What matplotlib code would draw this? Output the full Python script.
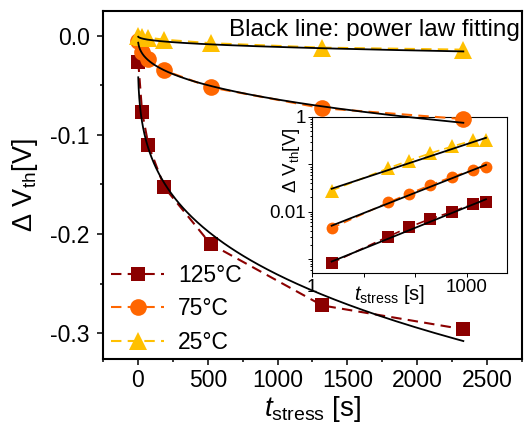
import numpy as np
import matplotlib
matplotlib.use('Agg')
import matplotlib.pyplot as plt
from matplotlib.ticker import FixedLocator, FixedFormatter, LogLocator, NullFormatter, MultipleLocator

plt.rcParams['font.family'] = ['Liberation Sans', 'DejaVu Sans']
plt.rcParams['mathtext.fontset'] = 'custom'
plt.rcParams['mathtext.rm'] = 'Liberation Sans'
plt.rcParams['mathtext.it'] = 'Liberation Sans:italic'

# stress times [s]
t_stress = [2.4, 30, 75, 190, 520, 1320, 2330]

# threshold voltage shift [V] (main, linear axes)
dv_125 = [-0.026, -0.077, -0.110, -0.153, -0.210, -0.272, -0.296]
dv_75 = [-0.005, -0.016, -0.023, -0.035, -0.052, -0.073, -0.084]
dv_25 = [-0.0005, -0.001, -0.002, -0.004, -0.0075, -0.012, -0.014]

# power law fits |dV| = A * t^n
fit_amp = [0.0325, 0.00506, 0.00071]
fit_exp = [0.29, 0.368, 0.40]

# inset (log-log) values as plotted
inset_sq = [8.3e-4, 3.0e-3, 4.7e-3, 7.0e-3, 0.010, 0.0147, 0.0163]
inset_ci = [4.5e-3, 0.0157, 0.024, 0.036, 0.055, 0.076, 0.089]
inset_tr = [0.028, 0.083, 0.12, 0.17, 0.24, 0.32, 0.33]
inset_amp = [6.05e-4, 3.48e-3, 0.0223]
inset_exp = [0.44, 0.43, 0.36]

labels = ['125°C', '75°C', '25°C']
colors = ['#8B0000', '#FF6600', '#FFC000']
markers = ['s', 'o', '^']
msizes = [9.5, 12, 12.5]

fig = plt.figure(figsize=(5.32, 4.26), dpi=100)
ax = fig.add_axes([0.1936, 0.1573, 0.7876, 0.8169])
ax.set_zorder(2)
ax.patch.set_visible(False)

series = [dv_125, dv_75, dv_25]
t_fit = np.logspace(np.log10(t_stress[0]), np.log10(t_stress[-1]), 300)
for y, lab, c, m, ms in zip(series, labels, colors, markers, msizes):
    ax.plot(t_stress, y, linestyle='--', dashes=(5, 3), color=c, lw=1.5,
            marker=m, markersize=ms, markeredgewidth=0, label=lab)
for a, n in zip(fit_amp, fit_exp):
    ax.plot(t_fit, -a * t_fit ** n, color='black', lw=1.3, zorder=3)

ax.set_xlim(-250, 2750)
ax.set_ylim(-0.326, 0.025)
ax.xaxis.set_major_locator(MultipleLocator(500))
ax.xaxis.set_minor_locator(MultipleLocator(250))
ax.yaxis.set_major_locator(MultipleLocator(0.1))
ax.yaxis.set_minor_locator(MultipleLocator(0.05))
ax.yaxis.set_major_formatter(matplotlib.ticker.FormatStrFormatter('%.1f'))
ax.tick_params(which='both', direction='out', width=1.1, labelsize=16.5)
ax.tick_params(which='major', length=4.5)
ax.tick_params(which='minor', length=2.5)
ax.tick_params(axis='y', pad=5)
ax.tick_params(axis='x', pad=3)
for s in ax.spines.values():
    s.set_linewidth(1.5)

ax.set_xlabel('$t_{\\mathrm{stress}}$ [s]', fontsize=20, labelpad=1)
ax.set_ylabel('Δ V$_{\\mathrm{th}}$[V]', fontsize=19.5)
ax.yaxis.set_label_coords(-0.15, 0.5)

ax.text(0.995, 0.977, 'Black line: power law fitting', transform=ax.transAxes,
        ha='right', va='top', fontsize=17.5)

ax.legend(loc='lower left', bbox_to_anchor=(0.02, 0.015), frameon=False,
          fontsize=16.5, handlelength=2.3, handletextpad=0.6, labelspacing=0.45,
          borderpad=0, borderaxespad=0)

# inset
ins = fig.add_axes([0.5865, 0.3592, 0.3665, 0.3662])
ins.set_zorder(1)
inset_series = [inset_sq, inset_ci, inset_tr]
inset_ms = [8.5, 8.5, 10]
for y, c, m, ms in zip(inset_series, colors, markers, inset_ms):
    ins.plot(t_stress, y, linestyle='--', dashes=(5, 3), color=c, lw=1.2,
             marker=m, markersize=ms, markeredgewidth=0)
for a, n in zip(inset_amp, inset_exp):
    ins.plot(t_fit, a * t_fit ** n, color='black', lw=1.3, zorder=3)
ins.set_xscale('log')
ins.set_yscale('log')
ins.set_xlim(1, 5950)
ins.set_ylim(5.1e-4, 1.0)
ins.xaxis.set_major_locator(FixedLocator([1, 10, 100, 1000]))
ins.xaxis.set_major_formatter(FixedFormatter(['1', '', '', '1000']))
ins.yaxis.set_major_locator(FixedLocator([0.001, 0.01, 0.1, 1]))
ins.yaxis.set_major_formatter(FixedFormatter(['', '0.01', '', '1']))
ins.xaxis.set_minor_locator(LogLocator(base=10, subs=np.arange(2, 10)))
ins.yaxis.set_minor_locator(LogLocator(base=10, subs=np.arange(2, 10)))
ins.xaxis.set_minor_formatter(NullFormatter())
ins.yaxis.set_minor_formatter(NullFormatter())
ins.tick_params(which='both', direction='out', width=0.7, labelsize=13.5, pad=1.5)
ins.tick_params(which='major', length=3)
ins.tick_params(which='minor', length=1.5)
for s in ins.spines.values():
    s.set_linewidth(0.8)
ins.set_xlabel('$t_{\\mathrm{stress}}$ [s]', fontsize=14.5)
ins.xaxis.set_label_coords(0.4, -0.065)
ins.set_ylabel('Δ V$_{\\mathrm{th}}$[V]', fontsize=13.5)
ins.yaxis.set_label_coords(-0.05, 0.72)

fig.savefig('out.png', dpi=100)
